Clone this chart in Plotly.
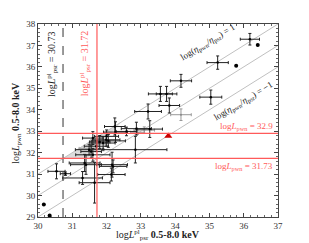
import plotly.graph_objects as go

# ---- data ----
bx = [36.18, 35.24, 34.17, 35.04, 33.57, 33.75, 33.83, 33.21, 32.87, 33.26,
      32.58, 32.26, 32.00, 31.80, 32.84, 32.16, 32.14, 32.24, 31.60, 31.99,
      31.90, 31.49, 31.36, 31.60, 32.19, 30.54, 30.80, 31.30, 31.65, 31.40,
      32.05, 31.70, 31.55]
by = [37.29, 36.20, 35.35, 34.59, 34.74, 34.74, 34.20, 33.92, 33.12, 33.10,
      32.99, 32.96, 32.76, 32.50, 32.14, 31.44, 30.98, 33.22, 32.68, 32.60,
      32.45, 32.14, 31.52, 31.90, 31.36, 31.13, 31.02, 30.82, 30.60, 31.44,
      32.55, 32.30, 32.05]
bxe = [0.28, 0.31, 0.31, 0.32, 0.35, 0.30, 0.30, 0.39, 0.44, 0.37,
       0.30, 0.35, 0.35, 0.30, 0.92, 0.45, 0.40, 0.30, 0.30, 0.40,
       0.35, 0.40, 0.45, 0.50, 0.40, 0.25, 0.15, 0.58, 0.45, 0.45,
       0.50, 0.35, 0.30]
bye = [0.27, 0.31, 0.30, 0.33, 0.35, 0.35, 0.35, 0.35, 0.30, 0.39,
       0.20, 0.48, 0.30, 0.30, 0.62, 0.58, 0.30, 0.40, 0.30, 0.30,
       0.30, 0.25, 0.40, 0.30, 0.30, 0.35, 0.08, 0.30, 0.95, 0.45,
       0.30, 0.25, 0.30]

gx = [34.17, 33.10, 31.55, 31.75, 32.90]
gy = [33.77, 33.05, 32.20, 32.40, 32.95]
gxe = [0.30, 0.30, 0.35, 0.25, 0.20]
gye = [0.27, 0.15, 0.10, 0.10, 0.10]

dot_x = [36.41, 35.78, 30.17, 30.34]
dot_y = [37.02, 36.05, 29.58, 29.07]

tri_x = [33.80]
tri_y = [32.78]

ratio_offsets = [1, 0, -1]
lpsr_lim = [30.73, 31.72]
lpwn_lim = [32.9, 31.73]

xticks = list(range(30, 38))
yticks = list(range(29, 39))

FONT = "Liberation Serif"
RED = "#ff5a5a"

fig = go.Figure()

# shaded wedge
fig.add_shape(type="path", xref="x", yref="y",
              path="M 30.73 31.73 L 32.45 33.45 L 31.45 31.73 Z",
              fillcolor="#dcdcdc", line=dict(width=0), layer="below")

for off in ratio_offsets:
    fig.add_shape(type="line", xref="x", yref="y", x0=30, y0=30 + off, x1=37, y1=37 + off,
                  line=dict(color="#c0c0c0", width=1), layer="below")

fig.add_shape(type="line", xref="x", yref="paper", x0=lpsr_lim[0], x1=lpsr_lim[0], y0=0, y1=1,
              line=dict(color="#333333", width=1, dash="dash"))
fig.add_shape(type="line", xref="x", yref="paper", x0=lpsr_lim[1], x1=lpsr_lim[1], y0=0, y1=1,
              line=dict(color=RED, width=1.2))
for v in lpwn_lim:
    fig.add_shape(type="line", xref="paper", yref="y", x0=0, x1=1, y0=v, y1=v,
                  line=dict(color=RED, width=1.2))

fig.add_trace(go.Scatter(
    x=gx, y=gy, mode="markers",
    marker=dict(color="#888888", size=2),
    error_x=dict(type="data", array=gxe, color="#999999", thickness=1, width=1.5),
    error_y=dict(type="data", array=gye, color="#999999", thickness=1, width=1.5),
    showlegend=False))

fig.add_trace(go.Scatter(
    x=bx, y=by, mode="markers",
    marker=dict(color="black", size=2.5),
    error_x=dict(type="data", array=bxe, color="#222222", thickness=1, width=1.5),
    error_y=dict(type="data", array=bye, color="#222222", thickness=1, width=1.5),
    showlegend=False))

fig.add_trace(go.Scatter(x=dot_x, y=dot_y, mode="markers",
                         marker=dict(color="black", size=4), showlegend=False))
fig.add_trace(go.Scatter(x=tri_x, y=tri_y, mode="markers",
                         marker=dict(color="#cc0000", size=7, symbol="triangle-up"),
                         showlegend=False))

ann = [
    dict(x=30.39, y=36.15, text="log<i>L</i><sup>pl</sup><sub>psr</sub> = 30.73",
         textangle=-90, font=dict(color="#222222", size=10, family=FONT)),
    dict(x=31.36, y=36.15, text="log<i>L</i><sup>pl</sup><sub>psr</sub> = 31.72",
         textangle=-90, font=dict(color=RED, size=10, family=FONT)),
    dict(x=34.95, y=37.15, text="log(<i>η</i><sub>pwn</sub>/<i>η</i><sub>psr</sub>) = 1",
         textangle=-31, font=dict(color="#222222", size=9, family=FONT)),
    dict(x=35.98, y=34.40, text="log(<i>η</i><sub>pwn</sub>/<i>η</i><sub>psr</sub>) = −1",
         textangle=-31, font=dict(color="#222222", size=9, family=FONT)),
    dict(x=36.92, y=33.2, text="log<i>L</i><sub>pwn</sub> = 32.9", xanchor="right",
         font=dict(color=RED, size=9, family=FONT)),
    dict(x=36.92, y=31.35, text="log<i>L</i><sub>pwn</sub> = 31.73", xanchor="right",
         font=dict(color=RED, size=9, family=FONT)),
]
for a in ann:
    fig.add_annotation(xref="x", yref="y", showarrow=False, **a)

# axis titles as paper annotations for precise placement
fig.add_annotation(xref="paper", yref="paper", x=0.5, y=-0.092, yanchor="middle",
                   showarrow=False,
                   text="log<i>L</i><sup>pl</sup><sub>psr</sub> <b>0.5-8.0 keV</b>",
                   font=dict(size=10, family=FONT, color="#222222"))
fig.add_annotation(xref="paper", yref="paper", x=-0.09, y=0.49, xanchor="center",
                   yanchor="middle", textangle=-90, showarrow=False,
                   text="log<i>L</i><sub>pwn</sub> <b>0.5-8.0 keV</b>",
                   font=dict(size=10, family=FONT, color="#222222"))

axis_common = dict(showline=True, linecolor="#444444", linewidth=1, mirror="allticks",
                   ticks="inside", ticklen=4, tickcolor="#444444", showgrid=False,
                   zeroline=False, automargin=False,
                   tickfont=dict(size=9, family=FONT, color="#333333"),
                   minor=dict(ticks="inside", ticklen=2, tickcolor="#666666", dtick=0.2))

fig.update_xaxes(range=[30, 37], tickvals=xticks, ticktext=[str(t) for t in xticks],
                 **axis_common)
fig.update_yaxes(range=[29, 38], tickvals=yticks, ticktext=[str(t) for t in yticks],
                 **axis_common)

# margins compensate for the page's default 8px body offset
fig.update_layout(width=309, height=243, margin=dict(l=30, r=39, t=16, b=34),
                  plot_bgcolor="white", paper_bgcolor="white")

fig.write_html("out.html")
